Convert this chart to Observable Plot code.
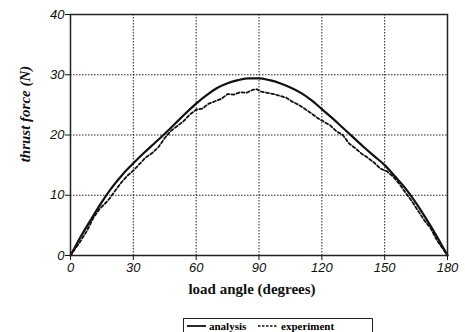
<!DOCTYPE html>
<html><head><meta charset="utf-8">
<script src="https://cdn.jsdelivr.net/npm/d3@7"></script>
<script src="https://cdn.jsdelivr.net/npm/@observablehq/plot@0.6"></script>
<style>
body{margin:0;background:#fff;}
#wrap{position:relative;width:465px;height:332px;}
#legend{position:absolute;left:183px;top:318px;width:190px;height:20px;border:1.3px solid #222;box-sizing:border-box;font-family:"Liberation Serif","DejaVu Serif",serif;font-weight:bold;font-size:11px;color:#111;}
#legend svg{position:absolute;left:0;top:0;}
g[aria-label$="tick label"]{font-style:italic !important;font-family:"Liberation Sans",Arial,sans-serif !important;font-size:13px !important;}
</style></head>
<body><div id="wrap"><div id="chart"></div><div id="legend"></div></div>
<script>
const xTicks = [0, 30, 60, 90, 120, 150, 180];
const yTicks = [0, 10, 20, 30, 40];
const analysisAngle = [0,5,10,15,20,25,30,35,40,45,50,55,60,65,70,75,80,85,90,95,100,105,110,115,120,125,130,135,140,145,150,155,160,165,170,175,180];
const analysisForce = [0,3.2,6.1,8.9,11.4,13.5,15.3,17.0,18.6,20.2,21.9,23.6,25.2,26.6,27.8,28.6,29.1,29.4,29.4,29.1,28.6,27.9,27.0,25.8,24.3,22.8,21.2,19.6,18.0,16.5,15.0,13.1,11.1,8.7,6.0,3.1,0];
const expAngle = [0,3,5,8,11,14,17,19,21,24,27,30,33,36,39,42,45,48,51,54,57,60,63,66,69,72,75,78,81,84,87,89,91,94,97,100,103,106,109,112,115,118,121,124,127,130,133,136,139,142,145,148,151,154,157,160,163,166,169,172,175,178,180];
const expForce = [0,1.5,2.5,4.2,6.3,7.8,8.8,9.6,10.6,12.0,13.2,14.1,15.2,16.3,17.0,18.0,19.5,20.7,21.5,22.3,23.4,24.2,24.4,25.2,25.6,26.0,26.8,26.7,27.1,27.0,27.5,27.6,27.2,27.0,26.8,26.5,26.2,25.5,25.0,24.3,23.6,22.8,22.2,21.6,20.6,20.0,18.6,17.8,16.9,16.2,15.4,14.4,14.0,13.1,11.9,10.4,9.0,7.4,5.8,4.5,2.5,1.0,0];
const xLabel = "load angle (degrees)";
const yLabel = "thrust force (N)";
const seriesNames = ["analysis", "experiment"];

const analysis = analysisAngle.map((a,i)=>({a, v: analysisForce[i]}));
const experiment = expAngle.map((a,i)=>({a, v: expForce[i]}));

const serif = "'Liberation Serif', 'Times New Roman', serif";
const plot = Plot.plot({
  width: 465, height: 312,
  marginLeft: 70, marginRight: 18, marginTop: 14, marginBottom: 57,
  style: {background:"#fff", color:"#111"},
  x: {domain:[0,180], ticks: xTicks},
  y: {domain:[0,40], ticks: yTicks},
  marks: [
    Plot.gridX(xTicks, {stroke:"#222", strokeOpacity:1, strokeDasharray:"1.5,1.5", strokeWidth:1}),
    Plot.gridY(yTicks, {stroke:"#222", strokeOpacity:1, strokeDasharray:"1.5,1.5", strokeWidth:1}),
    Plot.axisX(xTicks, {label:null, tickSize:5, tickPadding:2, fontSize:13, fontStyle:"italic"}),
    Plot.axisY(yTicks, {label:null, tickSize:5, tickPadding:1, fontSize:13, fontStyle:"italic"}),
    Plot.line(experiment, {x:"a", y:"v", stroke:"#111", strokeWidth:1.8, strokeDasharray:"3,2.2", curve:"linear"}),
    Plot.line(analysis, {x:"a", y:"v", stroke:"#111", strokeWidth:2.2, curve:"monotone-x"}),
    Plot.frame({stroke:"#222", strokeWidth:1.5}),
    Plot.text([xLabel], {frameAnchor:"bottom", dy:38, dx:-7, fontFamily:serif, fontWeight:"bold", fontSize:15, fill:"#111"}),
    Plot.text([yLabel], {frameAnchor:"left", textAnchor:"middle", rotate:-90, dx:-45, dy:-21, fontFamily:serif, fontWeight:"bold", fontStyle:"italic", fontSize:15, fill:"#111"})
  ]
});
document.getElementById("chart").appendChild(plot);

const lg = d3.select("#legend").append("svg").attr("width",190).attr("height",20);
lg.append("line").attr("x1",3).attr("x2",22).attr("y1",7).attr("y2",7).attr("stroke","#111").attr("stroke-width",1.8);
lg.append("text").attr("x",25).attr("y",11).text(seriesNames[0]);
lg.append("line").attr("x1",74).attr("x2",94).attr("y1",7).attr("y2",7).attr("stroke","#111").attr("stroke-width",1.6).attr("stroke-dasharray","2.5,1.5");
lg.append("text").attr("x",97).attr("y",11).text(seriesNames[1]);
</script></body></html>
